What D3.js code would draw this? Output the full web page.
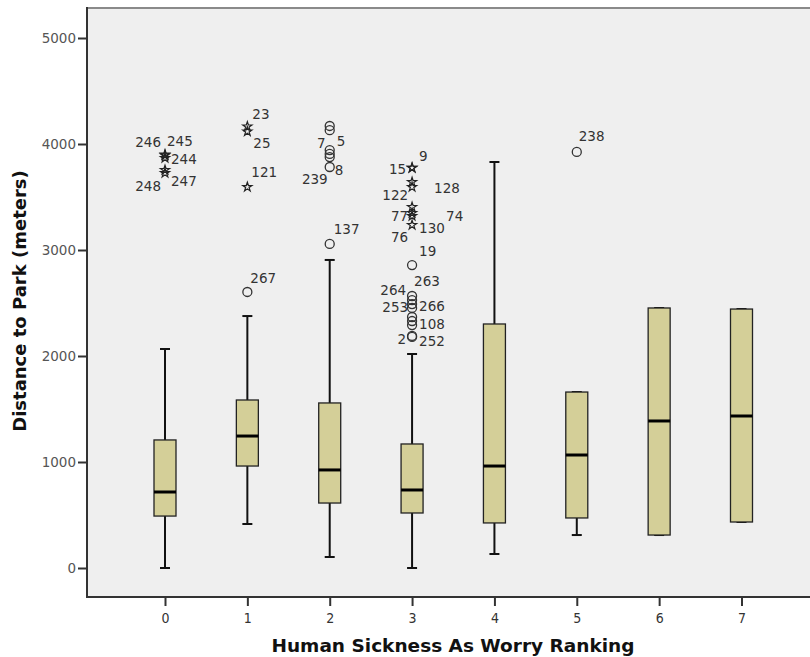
<!DOCTYPE html>
<html>
<head>
<meta charset="utf-8">
<script src="https://cdn.jsdelivr.net/npm/d3@7"></script>
<style>
  body { margin: 0; background: #ffffff; }
  svg { display: block; }
</style>
</head>
<body>
<script>
// categories and box statistics (meters)
const categories = [0, 1, 2, 3, 4, 5, 6, 7];
const whiskerLow  = [0,    415,  104,  0,    132,  311,  311,  434];
const q1          = [490,  962,  613,  519,  425,  472,  311,  434];
const medians     = [717,  1245, 925,  736,  962,  1066, 1387, 1434];
const q3          = [1208, 1585, 1557, 1170, 2302, 1660, 2453, 2443];
const whiskerHigh = [2066, 2377, 2906, 2019, 3830, 1660, 2453, 2443];

// outliers: [category, value, case id, kind] (o = outlier, e = extreme)
const outliers = [
  [0, 3900, "246", "e"], [0, 3893, "245", "e"], [0, 3868, "244", "e"],
  [0, 3755, "247", "e"], [0, 3726, "248", "e"],
  [1, 4165, "23", "e"], [1, 4118, "25", "e"], [1, 3594, "121", "e"],
  [1, 2604, "267", "o"],
  [2, 4170, "", "o"], [2, 4130, "", "o"], [2, 3943, "7", "o"],
  [2, 3906, "5", "o"], [2, 3877, "239", "o"], [2, 3783, "8", "o"],
  [2, 3057, "137", "o"],
  [3, 3774, "15", "e"], [3, 3776, "9", "e"], [3, 3641, "128", "e"], [3, 3594, "122", "e"],
  [3, 3406, "74", "e"], [3, 3349, "77", "e"], [3, 3321, "130", "e"], [3, 3236, "76", "e"],
  [3, 2858, "19", "o"], [3, 2566, "263", "o"], [3, 2528, "264", "o"],
  [3, 2490, "253", "o"], [3, 2453, "266", "o"], [3, 2368, "", "o"], [3, 2330, "108", "o"],
  [3, 2292, "", "o"], [3, 2189, "2", "o"], [3, 2180, "252", "o"],
  [5, 3925, "238", "o"]
];

const yTicks = [0, 1000, 2000, 3000, 4000, 5000];

// label placement around its marker: id -> [anchor, dx, dy]
const labelPlace = {
  "246": ["end", -4, -12], "245": ["start", 2, -14], "244": ["start", 6, 1],
  "247": ["start", 6, 11], "248": ["end", -4, 13],
  "23": ["start", 5, -12], "25": ["start", 6, 12], "121": ["start", 4, -15], "267": ["start", 3, -14],
  "7": ["end", -4, -7], "5": ["start", 7, -13], "239": ["end", -2, 22], "8": ["start", 5, 3],
  "137": ["start", 4, -15],
  "15": ["end", -6, 1], "9": ["start", 7, -11], "128": ["start", 22, 6], "122": ["end", -4, 8],
  "74": ["start", 34, 9], "77": ["end", -4, 3], "130": ["start", 7, 12], "76": ["end", -4, 12],
  "19": ["start", 7, -14], "263": ["start", 2, -15], "264": ["end", -6, -10],
  "253": ["end", -4, 3], "266": ["start", 7, -2], "108": ["start", 7, 3],
  "2": ["end", -6, 3], "252": ["start", 7, 4], "238": ["start", 2, -16]
};

const width = 810, height = 657;
const plot = { left: 87, top: 8, right: 830, bottom: 597 };

const svg = d3.select("body").append("svg").attr("width", width).attr("height", height);

const x = d3.scalePoint().domain(categories).range([165, 741.5]);
const y = d3.scaleLinear().domain([0, 5000]).range([568, 38]);

// plot background
svg.append("rect").attr("x", plot.left).attr("y", plot.top)
  .attr("width", plot.right - plot.left).attr("height", plot.bottom - plot.top)
  .attr("fill", "#efefef");
svg.append("line").attr("x1", plot.left).attr("x2", plot.right)
  .attr("y1", plot.top).attr("y2", plot.top).attr("stroke", "#8a8a8a").attr("stroke-width", 2);

// y axis
const yAxis = svg.append("g").attr("transform", `translate(${plot.left},0)`)
  .call(d3.axisLeft(y).tickValues(yTicks).tickFormat(d3.format("d")).tickSize(9).tickPadding(2));
yAxis.select(".domain").remove();
yAxis.selectAll(".tick line").attr("stroke", "#333").attr("stroke-width", 2);
yAxis.selectAll(".tick text").attr("fill", "#555").style("font", "13.5px 'DejaVu Sans'");
svg.append("line").attr("x1", plot.left).attr("x2", plot.left)
  .attr("y1", plot.top - 1).attr("y2", plot.bottom + 1).attr("stroke", "#333").attr("stroke-width", 2);

// x axis
const xAxis = svg.append("g").attr("transform", `translate(0,${plot.bottom})`)
  .call(d3.axisBottom(x).tickSize(9).tickPadding(7));
xAxis.select(".domain").remove();
xAxis.selectAll(".tick line").attr("stroke", "#333").attr("stroke-width", 2);
xAxis.selectAll(".tick text").attr("fill", "#333").style("font", "14px 'DejaVu Sans Condensed'");
svg.append("line").attr("x1", plot.left).attr("x2", plot.right)
  .attr("y1", plot.bottom).attr("y2", plot.bottom).attr("stroke", "#333").attr("stroke-width", 2);

// axis titles
svg.append("text").attr("x", 453).attr("y", 652).attr("text-anchor", "middle")
  .style("font", "bold 18.5px 'DejaVu Sans'").attr("fill", "#111")
  .text("Human Sickness As Worry Ranking");
svg.append("text").attr("transform", "translate(26,301) rotate(-90)").attr("text-anchor", "middle")
  .style("font", "bold 18px 'DejaVu Sans'").attr("fill", "#111")
  .text("Distance to Park (meters)");

// boxes
const boxW = 22, capW = 10;
const boxes = svg.append("g").selectAll("g").data(categories).enter().append("g");

boxes.append("line")
  .attr("x1", d => x(d)).attr("x2", d => x(d))
  .attr("y1", (d, i) => y(whiskerLow[i])).attr("y2", (d, i) => y(q1[i]))
  .attr("stroke", "#111").attr("stroke-width", 2);
boxes.append("line")
  .attr("x1", d => x(d)).attr("x2", d => x(d))
  .attr("y1", (d, i) => y(q3[i])).attr("y2", (d, i) => y(whiskerHigh[i]))
  .attr("stroke", "#111").attr("stroke-width", 2);
boxes.append("line")
  .attr("x1", d => x(d) - capW / 2).attr("x2", d => x(d) + capW / 2)
  .attr("y1", (d, i) => y(whiskerLow[i])).attr("y2", (d, i) => y(whiskerLow[i]))
  .attr("stroke", "#111").attr("stroke-width", 2);
boxes.append("line")
  .attr("x1", d => x(d) - capW / 2).attr("x2", d => x(d) + capW / 2)
  .attr("y1", (d, i) => y(whiskerHigh[i])).attr("y2", (d, i) => y(whiskerHigh[i]))
  .attr("stroke", "#111").attr("stroke-width", 2);
boxes.append("rect")
  .attr("x", d => x(d) - boxW / 2).attr("width", boxW)
  .attr("y", (d, i) => y(q3[i])).attr("height", (d, i) => y(q1[i]) - y(q3[i]))
  .attr("fill", "#d4cf98").attr("stroke", "#222").attr("stroke-width", 1.3);
boxes.append("line")
  .attr("x1", d => x(d) - boxW / 2).attr("x2", d => x(d) + boxW / 2)
  .attr("y1", (d, i) => y(medians[i])).attr("y2", (d, i) => y(medians[i]))
  .attr("stroke", "#000").attr("stroke-width", 3);

// outlier markers
const star = d3.symbol().type(d3.symbolStar).size(26);
const marks = svg.append("g").selectAll("g").data(outliers).enter().append("g")
  .attr("transform", d => `translate(${x(d[0])},${y(d[1])})`);
marks.filter(d => d[3] === "o").append("circle").attr("r", 4.5)
  .attr("fill", "none").attr("stroke", "#333").attr("stroke-width", 1.3);
marks.filter(d => d[3] === "e").append("path").attr("d", star)
  .attr("fill", "none").attr("stroke", "#222").attr("stroke-width", 1.2);

marks.filter(d => d[2] !== "").append("text")
  .attr("text-anchor", d => labelPlace[d[2]][0])
  .attr("x", d => labelPlace[d[2]][1])
  .attr("y", d => labelPlace[d[2]][2])
  .attr("dy", "0.35em")
  .attr("fill", "#333").style("font", "13.5px 'DejaVu Sans'")
  .text(d => d[2]);
</script>
</body>
</html>
